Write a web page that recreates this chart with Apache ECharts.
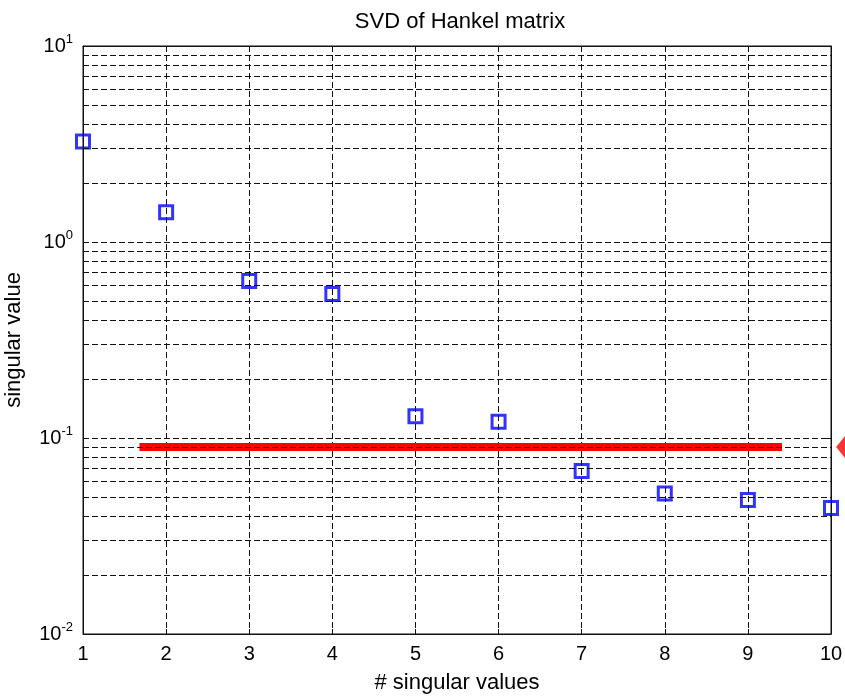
<!DOCTYPE html>
<html>
<head>
<meta charset="utf-8">
<script src="https://cdn.jsdelivr.net/npm/echarts@6/dist/echarts.min.js"></script>
<style>
  html, body { margin: 0; padding: 0; background: #fff; }
  #chart { width: 845px; height: 697px; }
</style>
</head>
<body>
<div id="chart"></div>
<script>
// Singular values of the Hankel matrix, in index order
const indices = [1, 2, 3, 4, 5, 6, 7, 8, 9, 10];
const singularValues = [3.26, 1.42, 0.632, 0.543, 0.129, 0.121, 0.0679, 0.0521, 0.0483, 0.044];

// Cut-off level and the span it is drawn over
const thresholdLevel = 0.09;
const thresholdSpan = [1.68, 9.41];
const thresholdArrowX = 10.14;

// Log-axis decades and minor grid factors
const decades = [0.01, 0.1, 1];
const minorFactors = [2, 3, 4, 5, 6, 7, 8, 9];

const FONT = '"Liberation Sans", Arial, sans-serif';
const DASH = [6, 3];
const INK = '#111';

const minorLines = [];
decades.forEach(d => minorFactors.forEach(f => minorLines.push({ yAxis: +(d * f).toPrecision(3) })));

function expLabel(v) {
  const e = Math.round(Math.log10(v));
  return '{b|10}{s|' + e + '}';
}

const chart = echarts.init(document.getElementById('chart'), null, { renderer: 'canvas' });

chart.setOption({
  backgroundColor: '#fff',
  animation: false,
  title: {
    text: 'SVD of Hankel matrix',
    left: 455,
    top: 6,
    textAlign: 'center',
    textStyle: { fontFamily: FONT, fontSize: 22, fontWeight: 'normal', color: '#000' }
  },
  grid: {
    left: 83, right: 14, top: 46, bottom: 63,
    containLabel: false,
    outerBoundsMode: 'none',
    show: true, borderColor: INK, borderWidth: 1, backgroundColor: '#fff'
  },
  xAxis: [{
    type: 'value', min: 1, max: 10, interval: 1,
    name: '# singular values', nameLocation: 'middle', nameGap: 38,
    nameTextStyle: { fontFamily: FONT, fontSize: 22, color: '#000' },
    axisLine: { show: true, lineStyle: { color: INK, width: 1 } },
    axisTick: { show: true, inside: true, length: 5, lineStyle: { color: INK } },
    axisLabel: { fontFamily: FONT, fontSize: 20, color: '#000', margin: 10 },
    splitLine: { show: true, lineStyle: { color: INK, type: DASH, width: 1 } }
  }, {
    type: 'value', min: 1, max: 10, interval: 1, position: 'top',
    axisLine: { show: true, lineStyle: { color: INK, width: 1 } },
    axisTick: { show: true, inside: true, length: 5, lineStyle: { color: INK } },
    axisLabel: { show: false },
    splitLine: { show: false }
  }],
  yAxis: [{
    type: 'log', logBase: 10, min: 0.01, max: 10,
    name: 'singular value', nameLocation: 'middle', nameGap: 58, nameRotate: 90,
    nameTextStyle: { fontFamily: FONT, fontSize: 22, color: '#000' },
    axisLine: { show: true, lineStyle: { color: INK, width: 1 } },
    axisTick: { show: true, inside: true, length: 5, lineStyle: { color: INK } },
    axisLabel: {
      margin: 10,
      formatter: expLabel,
      rich: {
        b: { fontFamily: FONT, fontSize: 20, color: '#000' },
        s: { fontFamily: FONT, fontSize: 13, color: '#000', verticalAlign: 'top', padding: [0, 0, 14, 0] }
      }
    },
    splitLine: { show: true, lineStyle: { color: INK, type: DASH, width: 1 } }
  }, {
    type: 'log', logBase: 10, min: 0.01, max: 10, position: 'right',
    axisLine: { show: true, lineStyle: { color: INK, width: 1 } },
    axisTick: { show: true, inside: true, length: 5, lineStyle: { color: INK } },
    axisLabel: { show: false },
    splitLine: { show: false }
  }],
  series: [{
    // minor log grid lines
    type: 'line',
    data: [],
    silent: true,
    markLine: {
      silent: true,
      symbol: 'none',
      label: { show: false },
      lineStyle: { color: INK, type: DASH, width: 1 },
      emphasis: { disabled: true },
      data: minorLines,
      animation: false
    }
  }, {
    // threshold level
    type: 'line',
    data: thresholdSpan.map(x => [x, thresholdLevel]),
    symbol: 'none',
    lineStyle: { color: '#ff0000', width: 8 },
    z: 3
  }, {
    // arrow head marking the threshold at the right edge
    type: 'scatter',
    data: [[thresholdArrowX, thresholdLevel]],
    symbol: 'triangle',
    symbolRotate: 90,
    symbolSize: [32, 13],
    itemStyle: { color: '#ff0000' },
    clip: false,
    z: 3
  }, {
    type: 'scatter',
    data: indices.map((x, i) => [x, singularValues[i]]),
    symbol: 'rect',
    symbolSize: 13,
    itemStyle: { color: 'rgba(0,0,0,0)', borderColor: '#0000ff', borderWidth: 3 },
    clip: false,
    z: 4
  }]
});
</script>
</body>
</html>
